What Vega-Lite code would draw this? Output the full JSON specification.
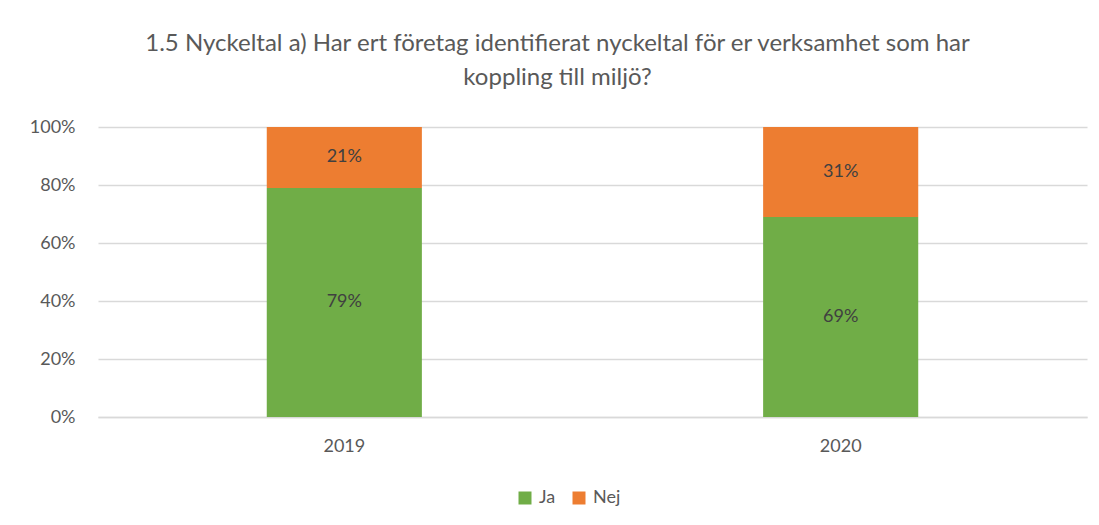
{
  "$schema": "https://vega.github.io/schema/vega-lite/v6.json",
  "width": 989,
  "height": 290,
  "autosize": {"type": "none"},
  "padding": {"left": 98, "top": 127, "right": 12, "bottom": 108},
  "background": "white",
  "title": {
    "text": ["1.5 Nyckeltal a) Har ert företag identifierat nyckeltal för er verksamhet som har", "koppling till miljö?"],
    "font": "Lato",
    "fontSize": 24,
    "fontWeight": "normal",
    "color": "#595959",
    "anchor": "middle",
    "dx": -35,
    "lineHeight": 34,
    "offset": 28
  },
  "config": {
    "view": {"stroke": null},
    "font": "Lato"
  },
  "data": {
    "values": [
      {"year": "2019", "series": "Ja", "value": 0.79, "label": "79%"},
      {"year": "2019", "series": "Nej", "value": 0.21, "label": "21%"},
      {"year": "2020", "series": "Ja", "value": 0.69, "label": "69%"},
      {"year": "2020", "series": "Nej", "value": 0.31, "label": "31%"}
    ]
  },
  "transform": [
    {"stack": "value", "groupby": ["year"], "sort": [{"field": "series", "order": "ascending"}], "as": ["v0", "v1"]},
    {"calculate": "(datum.v0 + datum.v1) / 2", "as": "vmid"}
  ],
  "encoding": {
    "x": {
      "field": "year",
      "type": "nominal",
      "title": null,
      "scale": {"paddingInner": 0.6875, "paddingOuter": 0.34},
      "axis": {
        "labelAngle": 0,
        "labelFont": "Lato",
        "labelFontSize": 18,
        "labelColor": "#595959",
        "labelPadding": 20,
        "ticks": false,
        "domainColor": "#d9d9d9",
        "domainWidth": 1.5
      }
    }
  },
  "layer": [
    {
      "mark": {"type": "bar"},
      "encoding": {
        "y": {
          "field": "v1",
          "type": "quantitative",
          "title": null,
          "scale": {"domain": [0, 1]},
          "axis": {
            "format": ".0%",
            "values": [0, 0.2, 0.4, 0.6, 0.8, 1],
            "labelFont": "Lato",
            "labelFontSize": 18,
            "labelColor": "#595959",
            "labelPadding": 23,
            "ticks": false,
            "domain": false,
            "gridColor": "#d9d9d9",
            "gridWidth": 1.5
          }
        },
        "y2": {"field": "v0"},
        "color": {
          "field": "series",
          "type": "nominal",
          "scale": {"domain": ["Ja", "Nej"], "range": ["#70AD47", "#ED7D31"]},
          "legend": {
            "title": null,
            "orient": "none",
            "direction": "horizontal",
            "legendX": 418,
            "legendY": 362,
            "symbolType": "square",
            "symbolSize": 169,
            "symbolStrokeWidth": 0,
            "labelFont": "Lato",
            "labelFontSize": 18,
            "labelColor": "#595959",
            "labelOffset": 5,
            "columnPadding": 14
          }
        }
      }
    },
    {
      "mark": {"type": "text", "font": "Lato", "fontSize": 18, "color": "#404040"},
      "encoding": {
        "y": {"field": "vmid", "type": "quantitative"},
        "text": {"field": "label"}
      }
    }
  ]
}
